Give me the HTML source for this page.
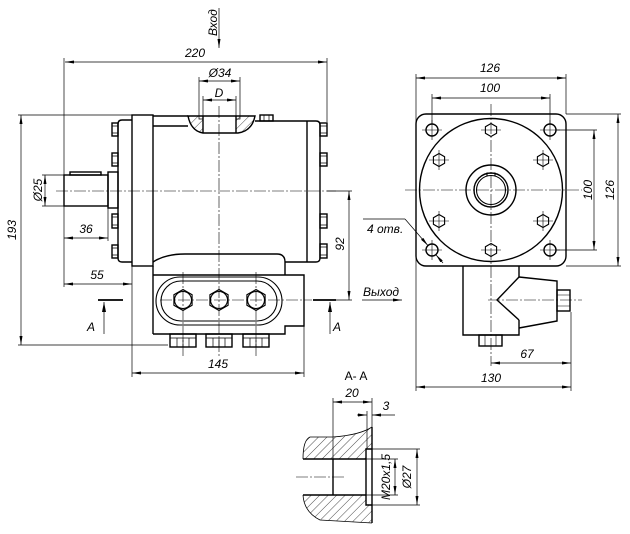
<!DOCTYPE html>
<html><head><meta charset="utf-8"><style>
html,body{margin:0;padding:0;background:#fff;}
svg{display:block;}
text{font-family:"Liberation Sans",sans-serif;font-style:italic;font-size:12px;fill:#000;}
</style></head><body>
<svg width="630" height="534" viewBox="0 0 630 534" xmlns="http://www.w3.org/2000/svg">
<defs>
<marker id="ar" viewBox="0 0 9 3" refX="9" refY="1.5" markerWidth="9" markerHeight="3" markerUnits="userSpaceOnUse" orient="auto-start-reverse"><path d="M0,0L9,1.5L0,3z" fill="#000"/></marker>
<marker id="ab" viewBox="0 0 10 4" refX="10" refY="2" markerWidth="10" markerHeight="4" markerUnits="userSpaceOnUse" orient="auto-start-reverse"><path d="M0,0L10,2L0,4z" fill="#000"/></marker>
<pattern id="hp" patternUnits="userSpaceOnUse" width="6" height="6" patternTransform="rotate(45)"><line x1="0" y1="0" x2="0" y2="6" stroke="#000" stroke-width="0.7"/></pattern>
</defs>

<!-- ============ LEFT VIEW ============ -->
<path d="M188,116 H203 V133 Q191,131 188,116 Z" fill="url(#hp)" stroke="none"/>
<path d="M236,116 H255 Q252,131 238,133 H236 Z" fill="url(#hp)" stroke="none"/>

<g fill="none" stroke="#000" stroke-width="1.4">
  <path d="M132,120 H122 Q118,120 118,124 V258 Q118,262 122,262 H132"/>
  <rect x="112" y="123" width="6" height="13"/>
  <rect x="112" y="153" width="6" height="13"/>
  <rect x="112" y="214" width="6" height="14"/>
  <rect x="112" y="245" width="6" height="13"/>
  <rect x="132" y="115" width="21" height="151"/>
  <path d="M153,116 H188 M153,126 H188"/>
  <path d="M188,116 H255 Q252,131 238,133 H203 Q191,131 188,116 Z"/>
  <path d="M203,116 V133 M236,116 V133"/>
  <path d="M255,121 H316 Q320,121 320,125 V258 Q320,262 316,262 H285"/>
  <path d="M307,121 V262"/>
  <path d="M153,266 V334"/>
  <rect x="320" y="123" width="7" height="13"/>
  <rect x="320" y="153" width="7" height="13"/>
  <rect x="320" y="214" width="7" height="14"/>
  <rect x="320" y="244" width="7" height="14"/>
  <rect x="260" y="115" width="13" height="6"/>
  <path d="M153,262 Q165,254 185,254 H277 Q285,254 285,262 V275"/>
  <path d="M153,275 H304 V326 H285 V334 H153"/>
  <rect x="64" y="175" width="44" height="31"/>
  <rect x="70" y="172" width="31" height="3"/>
  <rect x="108" y="172" width="10" height="36"/>
  <rect x="170" y="334" width="26" height="13"/>
  <rect x="206" y="334" width="26" height="13"/>
  <rect x="243" y="334" width="26" height="13"/>
</g>
<g fill="none" stroke="#000" stroke-width="1.1">
  <rect x="156" y="277" width="126" height="48" rx="24"/>
  <rect x="161" y="281" width="116" height="40" rx="20"/>
  <circle cx="183" cy="300" r="8.5"/>
  <circle cx="219" cy="300" r="8.5"/>
  <circle cx="256" cy="300" r="8.5"/>
  <polygon points="183,289.5 192.1,294.75 192.1,305.25 183,310.5 173.9,305.25 173.9,294.75"/>
  <polygon points="219,289.5 228.1,294.75 228.1,305.25 219,310.5 209.9,305.25 209.9,294.75"/>
  <polygon points="256,289.5 265.1,294.75 265.1,305.25 256,310.5 246.9,305.25 246.9,294.75"/>
</g>
<g fill="none" stroke="#000" stroke-width="0.7">
  <path d="M112,126 H118 M112,133 H118 M112,156 H118 M112,163 H118 M112,217 H118 M112,225 H118 M112,248 H118 M112,255 H118"/>
  <path d="M320,126 H327 M320,133 H327 M320,156 H327 M320,163 H327 M320,217 H327 M320,225 H327 M320,247 H327 M320,255 H327"/>
  <path d="M264,115 V121 M269,115 V121"/>
  <path d="M199,116 V119 H203 M240,116 V119 H236"/>
  <path d="M170,338 H196 M177,338 V347 M183,338 V347 M189,338 V347"/>
  <path d="M206,338 H232 M213,338 V347 M219,338 V347 M225,338 V347"/>
  <path d="M243,338 H269 M250,338 V347 M256,338 V347 M262,338 V347"/>
</g>
<g fill="none" stroke="#000" stroke-width="0.6" stroke-dasharray="12 2 2 2">
  <path d="M56,191 H336"/>
  <path d="M219,106 V358"/>
  <path d="M160,300 H312"/>
  <path d="M183,272 V356 M256,272 V356"/>
</g>

<g fill="none" stroke="#000" stroke-width="0.7">
  <path d="M64,58 V287"/>
  <path d="M327,58 V122"/>
  <path d="M65,62 H327" marker-start="url(#ar)" marker-end="url(#ar)"/>
  <path d="M199,77 V116 M240,77 V116"/>
  <path d="M199,81 H240" marker-start="url(#ar)" marker-end="url(#ar)"/>
  <path d="M203,96 V116 M236,96 V116"/>
  <path d="M203,100 H236" marker-start="url(#ar)" marker-end="url(#ar)"/>
  <path d="M219,8 V48" marker-end="url(#ar)"/>
  <path d="M18,115 H132 M18,345 H168"/>
  <path d="M21,115 V345" marker-start="url(#ar)" marker-end="url(#ar)"/>
  <path d="M42,175 H64 M42,206 H64"/>
  <path d="M45,175 V206" marker-start="url(#ar)" marker-end="url(#ar)"/>
  <path d="M108,208 V241"/>
  <path d="M64,238 H108" marker-start="url(#ar)" marker-end="url(#ar)"/>
  <path d="M64,284 H132" marker-start="url(#ar)" marker-end="url(#ar)"/>
  <path d="M132,266 V377 M304,326 V377"/>
  <path d="M132,373 H304" marker-start="url(#ar)" marker-end="url(#ar)"/>
  <path d="M327,191 H352 M336,300 H352"/>
  <path d="M349,191 V300" marker-start="url(#ar)" marker-end="url(#ar)"/>
  <path d="M362,300 H402" marker-end="url(#ar)"/>
  <path d="M363,219 H405"/>
  <path d="M405,219 L428,245.6" marker-end="url(#ar)"/>
  <path d="M443,263 L435.8,254.6" marker-end="url(#ar)"/>
  <path d="M104,334 V302" marker-end="url(#ab)"/>
  <path d="M330,334 V302" marker-end="url(#ab)"/>
</g>
<g stroke="#000" stroke-width="1.8">
  <path d="M98,300 H123 M313,300 H336"/>
</g>

<text x="195" y="57" text-anchor="middle">220</text>
<text x="220" y="77" text-anchor="middle" font-size="11">Ø34</text>
<text x="219" y="97" text-anchor="middle" font-size="13">D</text>
<text transform="translate(217,36) rotate(-90)" font-size="11">Вход</text>
<text transform="translate(16,230) rotate(-90)" text-anchor="middle">193</text>
<text transform="translate(42,190) rotate(-90)" text-anchor="middle" font-size="11">Ø25</text>
<text x="86" y="233" text-anchor="middle">36</text>
<text x="97" y="279" text-anchor="middle">55</text>
<text x="218" y="368" text-anchor="middle">145</text>
<text transform="translate(344,244) rotate(-90)" text-anchor="middle">92</text>
<text x="363" y="296" font-size="12">Выход</text>
<text x="367" y="233" font-size="11">4 отв.</text>
<text x="87" y="331" font-size="17">A</text>
<text x="333" y="331" font-size="17">A</text>

<!-- ============ RIGHT VIEW ============ -->
<g fill="none" stroke="#000" stroke-width="1.4">
  <rect x="416" y="114" width="150" height="152" rx="10"/>
  <circle cx="491" cy="190" r="71.5"/>
  <circle cx="432" cy="130" r="6"/>
  <circle cx="550" cy="130" r="6"/>
  <circle cx="432" cy="250" r="6"/>
  <circle cx="550" cy="250" r="6"/>
  <circle cx="491" cy="190" r="25"/>
  <circle cx="491" cy="190" r="17"/>
  <path d="M463,266 V335 H519 V320 M519,266 V277"/>
  <path d="M519,277 L557,281 V321 L519,328 M519,277 L497,300 L519,320"/>
  <rect x="479" y="335" width="23" height="11"/>
  <rect x="557" y="290" width="13" height="21"/>
</g>
<g fill="none" stroke="#000" stroke-width="1.1">
  <circle cx="491" cy="190" r="14.5"/>
  <path d="M487,176 V173 H495 V176"/>
  <polygon points="491,123.5 496.6,126.75 496.6,133.25 491,136.5 485.4,133.25 485.4,126.75"/>
  <polygon points="491,243.5 496.6,246.75 496.6,253.25 491,256.5 485.4,253.25 485.4,246.75"/>
  <polygon points="439,153.5 444.6,156.75 444.6,163.25 439,166.5 433.4,163.25 433.4,156.75"/>
  <polygon points="543,153.5 548.6,156.75 548.6,163.25 543,166.5 537.4,163.25 537.4,156.75"/>
  <polygon points="439,214.5 444.6,217.75 444.6,224.25 439,227.5 433.4,224.25 433.4,217.75"/>
  <polygon points="543,214.5 548.6,217.75 548.6,224.25 543,227.5 537.4,224.25 537.4,217.75"/>
</g>
<g fill="none" stroke="#000" stroke-width="0.6">
  <path d="M485,335 V346 M496,335 V346"/>
  <path d="M557,295 H570 M557,306 H570"/>
  <path d="M422,130 H442 M432,120 V140 M540,130 H560 M550,120 V140 M422,250 H442 M432,240 V260 M540,250 H560 M550,240 V260"/>
  <path d="M429,160 H449 M439,150 V170 M533,160 H553 M543,150 V170 M429,221 H449 M439,211 V231 M533,221 H553 M543,211 V231 M481,130 H501 M481,250 H501"/>
</g>
<g fill="none" stroke="#000" stroke-width="0.6" stroke-dasharray="12 2 2 2">
  <path d="M405,190 H582"/>
  <path d="M491,104 V366"/>
  <path d="M488,300 H582"/>
</g>
<g fill="none" stroke="#000" stroke-width="0.7">
  <path d="M416,74 V391 M566,74 V114"/>
  <path d="M416,78 H566" marker-start="url(#ar)" marker-end="url(#ar)"/>
  <path d="M432,94 V124 M550,94 V124"/>
  <path d="M432,98 H550" marker-start="url(#ar)" marker-end="url(#ar)"/>
  <path d="M556,130 H597 M556,250 H597"/>
  <path d="M594,130 V250" marker-start="url(#ar)" marker-end="url(#ar)"/>
  <path d="M566,114 H621 M566,266 H621"/>
  <path d="M618,114 V266" marker-start="url(#ar)" marker-end="url(#ar)"/>
  <path d="M571,312 V391"/>
  <path d="M491,363 H571" marker-start="url(#ar)" marker-end="url(#ar)"/>
  <path d="M416,387 H571" marker-start="url(#ar)" marker-end="url(#ar)"/>
</g>
<text x="490" y="72" text-anchor="middle">126</text>
<text x="490" y="92" text-anchor="middle">100</text>
<text transform="translate(592,190) rotate(-90)" text-anchor="middle">100</text>
<text transform="translate(614,190) rotate(-90)" text-anchor="middle">126</text>
<text x="527" y="358" text-anchor="middle">67</text>
<text x="491" y="382" text-anchor="middle">130</text>

<!-- ============ SECTION A-A ============ -->
<path d="M372,427 Q360,435 333,437 H310 Q303,440 303,459 H366 V449 H372 Z" fill="url(#hp)" stroke="none"/>
<path d="M303,495 Q304,512 320,520 L372,523 V505 H366 V495 Z" fill="url(#hp)" stroke="none"/>
<g fill="none" stroke="#000" stroke-width="0.8">
  <path d="M372,427 Q360,435 333,437 H310 Q303,440 303,459"/>
  <path d="M303,495 Q304,512 320,520 L372,523"/>
</g>
<g fill="none" stroke="#000" stroke-width="1.4">
  <path d="M372,427 V523"/>
  <path d="M372,449 H366 V505 H372"/>
  <path d="M303,459 H366 M303,495 H366"/>
  <path d="M333,459 V495"/>
</g>
<g fill="none" stroke="#000" stroke-width="0.6" stroke-dasharray="12 2 2 2">
  <path d="M296,477 H345"/>
</g>
<g fill="none" stroke="#000" stroke-width="0.7">
  <path d="M333,398 V459 M372,398 V427 M367,411 V449"/>
  <path d="M333,402 H372" marker-start="url(#ar)" marker-end="url(#ar)"/>
  <path d="M357,415 H367" marker-end="url(#ar)"/>
  <path d="M395,415 H372" marker-end="url(#ar)"/>
  <path d="M366,459 H398 M366,495 H398"/>
  <path d="M395,459 V495" marker-start="url(#ar)" marker-end="url(#ar)"/>
  <path d="M372,449 H420 M372,505 H420"/>
  <path d="M417,449 V505" marker-start="url(#ar)" marker-end="url(#ar)"/>
</g>
<text x="356" y="380" text-anchor="middle" font-size="16" style="font-style:normal">A- A</text>
<text x="352" y="397" text-anchor="middle">20</text>
<text x="386" y="410" text-anchor="middle">3</text>
<text transform="translate(390,477) rotate(-90)" text-anchor="middle" font-size="11">M20x1,5</text>
<text transform="translate(411,477) rotate(-90)" text-anchor="middle" font-size="11">Ø27</text>
</svg>
</body></html>
